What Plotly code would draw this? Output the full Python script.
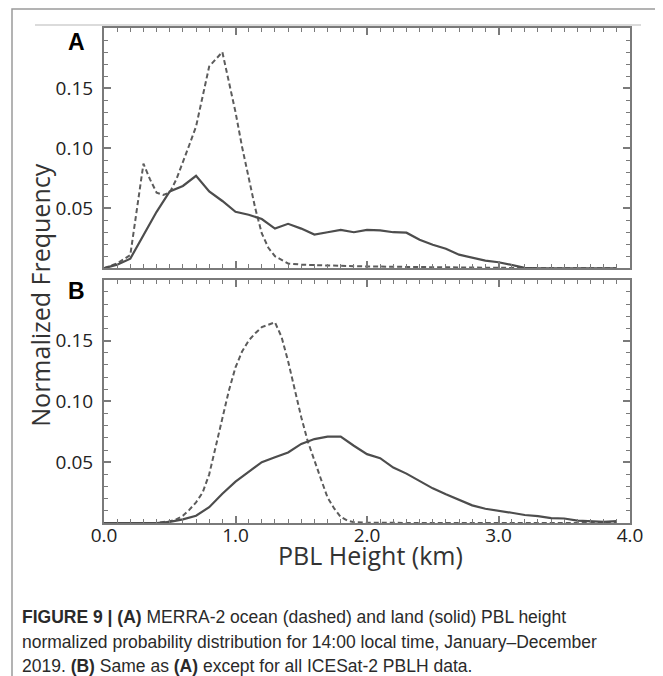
import plotly.graph_objects as go

# ---------------- data ----------------
# Panel A: MERRA-2
xa_land = [0, 0.1, 0.2, 0.3, 0.4, 0.5, 0.6, 0.7, 0.8, 0.9, 1.0, 1.1, 1.2, 1.3, 1.4, 1.5, 1.6, 1.7, 1.8, 1.9,
           2.0, 2.1, 2.2, 2.3, 2.4, 2.5, 2.6, 2.7, 2.8, 2.9, 3.0, 3.1, 3.2, 3.3, 3.4, 3.5, 3.6, 3.7, 3.8, 3.9]
ya_land = [0, 0.003, 0.008, 0.027, 0.047, 0.064, 0.0685, 0.077, 0.064, 0.056, 0.047, 0.0445, 0.041, 0.033,
           0.037, 0.033, 0.028, 0.030, 0.032, 0.030, 0.032, 0.0315, 0.030, 0.0296, 0.0237, 0.0196, 0.0163,
           0.0113, 0.0085, 0.0063, 0.005, 0.003, 0.0004, 0, 0, 0, 0, 0, 0, 0]

xa_ocean = [0, 0.1, 0.2, 0.25, 0.3, 0.35, 0.4, 0.45, 0.5, 0.55, 0.6, 0.65, 0.7, 0.75, 0.8, 0.85, 0.9, 0.95,
            1.0, 1.05, 1.1, 1.15, 1.2, 1.25, 1.3, 1.4, 1.5, 1.6, 1.8, 2.0, 2.2, 2.4, 2.6, 2.8, 3.0, 3.2,
            3.4, 3.6, 3.8, 3.9]
ya_ocean = [0, 0.004, 0.011, 0.050, 0.087, 0.074, 0.063, 0.061, 0.063, 0.074, 0.088, 0.103, 0.118, 0.144,
            0.168, 0.174, 0.180, 0.155, 0.130, 0.101, 0.075, 0.050, 0.029, 0.017, 0.010, 0.004, 0.003,
            0.0025, 0.002, 0.0015, 0.001, 0.001, 0.0008, 0.0005, 0.0003, 0, 0, 0, 0, 0]

# Panel B: ICESat-2
xb_land = [0, 0.1, 0.2, 0.3, 0.4, 0.5, 0.6, 0.7, 0.8, 0.9, 1.0, 1.1, 1.2, 1.3, 1.4, 1.5, 1.6, 1.7, 1.8, 1.9,
           2.0, 2.1, 2.2, 2.3, 2.4, 2.5, 2.6, 2.7, 2.8, 2.9, 3.0, 3.1, 3.2, 3.3, 3.4, 3.5, 3.6, 3.7, 3.8, 3.9]
yb_land = [0, 0, 0, 0, 0, 0.001, 0.003, 0.006, 0.013, 0.024, 0.034, 0.042, 0.050, 0.054, 0.058, 0.065,
           0.069, 0.071, 0.071, 0.0635, 0.0566, 0.0533, 0.0456, 0.0406, 0.0346, 0.0285, 0.0236, 0.0189,
           0.0145, 0.0117, 0.0103, 0.0084, 0.0066, 0.0057, 0.004, 0.0037, 0.002, 0.0012, 0.001, 0.0015]

xb_ocean = [0, 0.2, 0.4, 0.5, 0.55, 0.6, 0.65, 0.7, 0.75, 0.8, 0.85, 0.9, 0.95, 1.0, 1.05, 1.1, 1.15, 1.2,
            1.25, 1.3, 1.35, 1.4, 1.45, 1.5, 1.55, 1.6, 1.65, 1.7, 1.75, 1.8, 1.85, 1.9, 2.0, 2.5, 3.0,
            3.5, 3.9]
yb_ocean = [0, 0, 0, 0.0015, 0.003, 0.006, 0.011, 0.017, 0.025, 0.040, 0.062, 0.086, 0.109, 0.128, 0.141,
            0.150, 0.156, 0.161, 0.163, 0.165, 0.153, 0.133, 0.110, 0.087, 0.067, 0.051, 0.036, 0.021,
            0.012, 0.005, 0.002, 0.0007, 0.0002, 0, 0, 0, 0]

x_ticks = [0, 1, 2, 3, 4]
x_ticklabels = ["0.0", "1.0", "2.0", "3.0", "4.0"]
y_ticks = [0.05, 0.10, 0.15]
y_ticklabels = ["0.05", "0.10", "0.15"]

# ---------------- layout geometry ----------------
# the page body adds an 8px margin, so the figure is drawn 8px smaller and shifted
OFF = 8
W, H = 663 - OFF, 676 - OFF
L, R, T, B = 104 - OFF, 630 - OFF, 28 - OFF, 523.5 - OFF
A_BOTTOM, B_TOP = 268.5 - OFF, 280 - OFF


def px(x):
    return (x - OFF - L) / (R - L)


def py(y):
    return (B - (y - OFF)) / (B - T)


SOLID = "#4d4d4d"
DASH = "#5c5c5c"
AXC = "#7a7a7a"

fig = go.Figure()
fig.add_trace(go.Scatter(x=xa_ocean, y=ya_ocean, mode="lines", xaxis="x", yaxis="y",
                         line=dict(color=DASH, width=2, dash="5px,3px"), showlegend=False))
fig.add_trace(go.Scatter(x=xa_land, y=ya_land, mode="lines", xaxis="x", yaxis="y",
                         line=dict(color=SOLID, width=2.2), showlegend=False))
fig.add_trace(go.Scatter(x=xb_ocean, y=yb_ocean, mode="lines", xaxis="x2", yaxis="y2",
                         line=dict(color=DASH, width=2, dash="5px,3px"), showlegend=False))
fig.add_trace(go.Scatter(x=xb_land, y=yb_land, mode="lines", xaxis="x2", yaxis="y2",
                         line=dict(color=SOLID, width=2.2), showlegend=False))

tickfont = dict(family="Open Sans", size=19, color="#222")

common_x = dict(range=[0, 4], showline=True, linecolor=AXC, linewidth=2, mirror="ticks",
                ticks="inside", ticklen=7, tickwidth=1.5, tickcolor=AXC,
                tickvals=x_ticks, ticktext=x_ticklabels, ticklabelstandoff=-6,
                minor=dict(tickmode="linear", tick0=0, dtick=0.1, ticks="inside", ticklen=4,
                           tickwidth=1, tickcolor=AXC),
                showgrid=False, zeroline=False, tickfont=tickfont, fixedrange=True)
common_y = dict(range=[0, 0.2], showline=True, linecolor=AXC, linewidth=2, mirror="ticks",
                ticks="inside", ticklen=7, tickwidth=1.5, tickcolor=AXC,
                tickvals=y_ticks, ticktext=y_ticklabels, ticklabelstandoff=5,
                minor=dict(tickmode="linear", tick0=0, dtick=0.01, ticks="inside", ticklen=4,
                           tickwidth=1, tickcolor=AXC),
                showgrid=False, zeroline=False, tickfont=tickfont, fixedrange=True)

fig.update_layout(
    width=W, height=H,
    margin=dict(l=L, r=W - R, t=T, b=H - B, pad=0),
    paper_bgcolor="white", plot_bgcolor="white",
    xaxis=dict(common_x, domain=[0, 1], anchor="y", showticklabels=False),
    yaxis=dict(common_y, domain=[(B - A_BOTTOM) / (B - T), 1], anchor="x"),
    xaxis2=dict(common_x, domain=[0, 1], anchor="y2", showticklabels=True),
    yaxis2=dict(common_y, domain=[0, (B - B_TOP) / (B - T)], anchor="x2"),
)

shapes = [
    # outer figure frame
    dict(type="rect", xref="paper", yref="paper", x0=px(12), x1=px(661.5), y0=py(720), y1=py(9),
         line=dict(color="#9a9a9a", width=1.5), fillcolor="rgba(0,0,0,0)", layer="below"),
    # thin rule above the chart
    dict(type="line", xref="paper", yref="paper", x0=px(35), x1=px(641), y0=py(25), y1=py(25),
         line=dict(color="#cfcfcf", width=1.5), layer="below"),
]
fig.update_layout(shapes=shapes)

ann = []
ann.append(dict(text="<b>A</b>", x=px(76), y=py(42), xref="paper", yref="paper", showarrow=False,
                font=dict(family="Liberation Sans", size=23, color="#000"), xanchor="center", yanchor="middle"))
ann.append(dict(text="<b>B</b>", x=px(76), y=py(291), xref="paper", yref="paper", showarrow=False,
                font=dict(family="Liberation Sans", size=23, color="#000"), xanchor="center", yanchor="middle"))
ann.append(dict(text="Normalized Frequency", x=px(40), y=py(296), xref="paper", yref="paper",
                showarrow=False, textangle=-90,
                font=dict(family="Open Sans", size=25, color="#333"), xanchor="center", yanchor="middle"))
ann.append(dict(text="PBL Height (km)", x=px(370), y=py(556), xref="paper", yref="paper",
                showarrow=False, font=dict(family="Open Sans", size=25, color="#333"),
                xanchor="center", yanchor="middle"))

caption = [
    "<b>FIGURE 9 | (A)</b> MERRA-2 ocean (dashed) and land (solid) PBL height",
    "normalized probability distribution for 14:00 local time, January\u2013December",
    "2019. <b>(B)</b> Same as <b>(A)</b> except for all ICESat-2 PBLH data.",
]
cap_y = [618, 642.5, 666.5]
for line, yy in zip(caption, cap_y):
    ann.append(dict(text=line, x=px(20), y=py(yy), xref="paper", yref="paper", showarrow=False,
                    font=dict(family="Liberation Sans Narrow, Liberation Sans", size=17.5, color="#2a2a2a"),
                    xanchor="left", yanchor="middle"))
fig.update_layout(annotations=ann)

fig.write_html("out.html")
